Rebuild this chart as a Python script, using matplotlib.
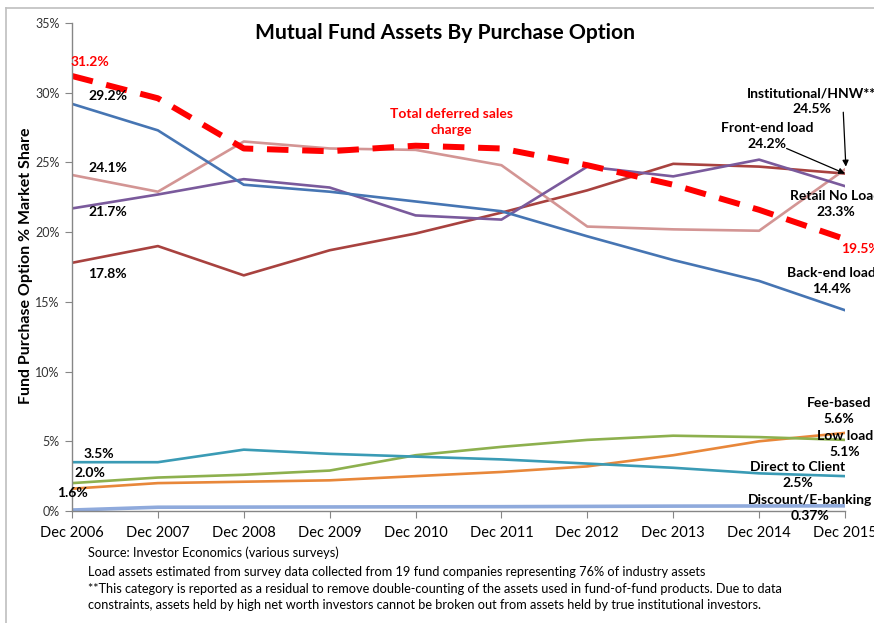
import matplotlib
matplotlib.use("Agg")
import matplotlib.pyplot as plt
from matplotlib.lines import Line2D

plt.rcParams['font.family'] = ['Lato', 'DejaVu Sans']

years = ["Dec 2006", "Dec 2007", "Dec 2008", "Dec 2009", "Dec 2010",
         "Dec 2011", "Dec 2012", "Dec 2013", "Dec 2014", "Dec 2015"]

deferred = [31.2, 29.6, 26.0, 25.8, 26.2, 26.0, 24.8, 23.4, 21.6, 19.5]
back_end = [29.2, 27.3, 23.4, 22.9, 22.2, 21.5, 19.7, 18.0, 16.5, 14.4]
retail_no_load = [21.7, 22.7, 23.8, 23.2, 21.2, 20.9, 24.7, 24.0, 25.2, 23.3]
institutional = [24.1, 22.9, 26.5, 26.0, 25.9, 24.8, 20.4, 20.2, 20.1, 24.5]
front_end = [17.8, 19.0, 16.9, 18.7, 19.9, 21.4, 23.0, 24.9, 24.7, 24.2]
direct_client = [3.5, 3.5, 4.4, 4.1, 3.9, 3.7, 3.4, 3.1, 2.7, 2.5]
low_load = [2.0, 2.4, 2.6, 2.9, 4.0, 4.6, 5.1, 5.4, 5.3, 5.1]
fee_based = [1.6, 2.0, 2.1, 2.2, 2.5, 2.8, 3.2, 4.0, 5.0, 5.6]
discount = [0.07, 0.27, 0.28, 0.29, 0.30, 0.31, 0.33, 0.35, 0.36, 0.37]

yticks = [0, 5, 10, 15, 20, 25, 30, 35]
ytick_labels = ["0%", "5%", "10%", "15%", "20%", "25%", "30%", "35%"]

W, H = 874, 623
fig = plt.figure(figsize=(W / 100, H / 100), dpi=100)
ax = fig.add_axes([72 / W, (H - 511) / H, (845 - 72) / W, (511 - 23) / H])

x = list(range(len(years)))
lw = 1.9
ax.plot(x, discount, color="#8FAADC", lw=2.6, solid_capstyle="butt")
ax.plot(x, fee_based, color="#E8873A", lw=lw)
ax.plot(x, low_load, color="#8DB04E", lw=lw)
ax.plot(x, direct_client, color="#3A9BB5", lw=lw)
ax.plot(x, front_end, color="#A8423F", lw=lw)
ax.plot(x, institutional, color="#D39594", lw=lw)
ax.plot(x, retail_no_load, color="#7A5A9C", lw=lw)
ax.plot(x, back_end, color="#4675B3", lw=lw)
ax.plot(x, deferred, color="#FF0000", lw=4.3, linestyle=(0, (3.6, 2.3)))

ax.set_xlim(0, 9)
ax.set_ylim(0, 35)
ax.set_xticks(x)
ax.set_xticklabels(years)
ax.set_yticks(yticks)
ax.set_yticklabels(ytick_labels)
for s in ["top", "right"]:
    ax.spines[s].set_visible(False)
for s in ["left", "bottom"]:
    ax.spines[s].set_color("#868686")
    ax.spines[s].set_linewidth(1.0)
ax.tick_params(axis="x", direction="out", length=5, color="#868686",
               labelsize=10.5, labelcolor="#000000", pad=6)
ax.tick_params(axis="y", direction="out", length=5, color="#868686",
               labelsize=9, labelcolor="#333333", pad=4)
ax.patch.set_alpha(0)

fig.text(26 / W, 1 - 266 / H, "Fund Purchase Option % Market Share",
         rotation=90, ha="center", va="center", fontsize=11.5,
         fontweight="bold")

fig.text(445 / W, 1 - 33 / H, "Mutual Fund Assets By Purchase Option",
         ha="center", va="center", fontsize=15.2, fontweight="bold")

bold = dict(fontsize=10, fontweight="bold", clip_on=False)
# left-side value labels
ax.text(-0.02, 32.2, "31.2%", color="#FF0000", ha="left", va="center", **bold)
ax.text(0.19, 29.8, "29.2%", ha="left", va="center", **bold)
ax.text(0.19, 24.6, "24.1%", ha="left", va="center", **bold)
ax.text(0.19, 21.45, "21.7%", ha="left", va="center", **bold)
ax.text(0.19, 17.0, "17.8%", ha="left", va="center", **bold)
ax.text(0.14, 4.09, "3.5%", ha="left", va="center", **bold)
ax.text(0.03, 2.73, "2.0%", ha="left", va="center", **bold)
ax.text(-0.17, 1.29, "1.6%", ha="left", va="center", **bold)

ax.text(4.42, 27.9, "Total deferred sales\ncharge", color="#FF0000",
        ha="center", va="center", linespacing=1.45, **bold)

# right-side series labels
ls = 1.4
ax.text(8.61, 29.4, "Institutional/HNW**\n24.5%", ha="center", va="center",
        linespacing=ls, **bold)
ax.text(8.09, 26.9, "Front-end load\n24.2%", ha="center", va="center",
        linespacing=ls, **bold)
ax.text(8.89, 22.0, "Retail No Load\n23.3%", ha="center", va="center",
        linespacing=ls, **bold)
ax.text(8.96, 18.8, "19.5%", color="#FF0000", ha="left", va="center", **bold)
ax.text(8.84, 16.5, "Back-end load\n14.4%", ha="center", va="center",
        linespacing=ls, **bold)
ax.text(8.93, 7.17, "Fee-based\n5.6%", ha="center", va="center",
        linespacing=ls, **bold)
ax.text(9.0, 4.84, "Low load\n5.1%", ha="center", va="center",
        linespacing=ls, **bold)
ax.text(8.45, 2.58, "Direct to Client\n2.5%", ha="center", va="center",
        linespacing=ls, **bold)
ax.text(8.59, 0.25, "Discount/E-banking\n0.37%", ha="center", va="center",
        linespacing=ls, **bold)

arrow = dict(arrowstyle="-|>", color="black", lw=0.9, mutation_scale=9,
             shrinkA=0, shrinkB=0)
ax.annotate("", xy=(9.01, institutional[-1] + 0.2), xytext=(8.98, 28.6),
            arrowprops=arrow, annotation_clip=False)
ax.annotate("", xy=(9.0, front_end[-1]), xytext=(8.32, 26.0),
            arrowprops=arrow, annotation_clip=False)

notes = [
    "Source: Investor Economics (various surveys)",
    "Load assets estimated from survey data collected from 19 fund companies representing 76% of industry assets",
    "**This category is reported as a residual to remove double-counting of the assets used in fund-of-fund products. Due to data",
    "constraints, assets held by high net worth investors cannot be broken out from assets held by true institutional investors.",
]
for txt, py in zip(notes, [553, 572, 589, 605]):
    fig.text(88 / W, 1 - py / H, txt, ha="left", va="center", fontsize=9.2)

# outer frame
fig.add_artist(Line2D([6 / W, 6 / W], [0, 1 - 8 / H], transform=fig.transFigure,
                      color="#BFBFBF", lw=1.2))
fig.add_artist(Line2D([6 / W, 1], [1 - 8 / H, 1 - 8 / H], transform=fig.transFigure,
                      color="#BFBFBF", lw=1.2))

fig.savefig("out.png", dpi=100)
